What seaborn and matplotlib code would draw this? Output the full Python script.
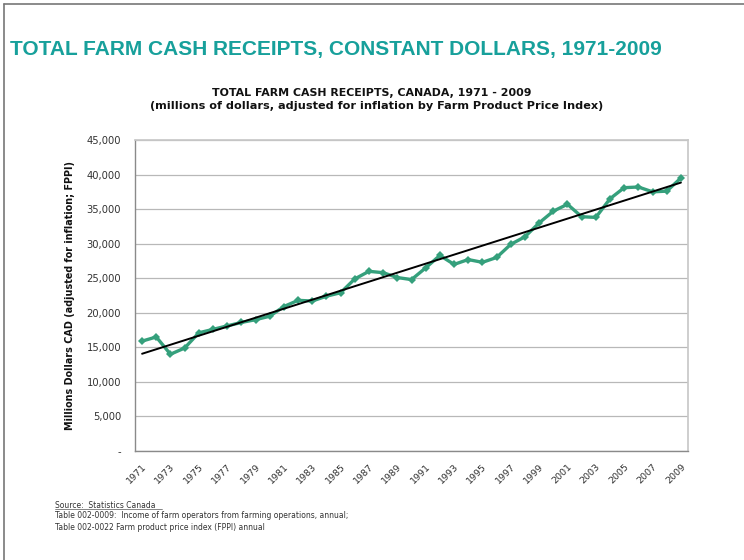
import numpy as np
import pandas as pd
import seaborn as sns
import matplotlib.pyplot as plt
from matplotlib.lines import Line2D
from matplotlib.ticker import FixedLocator, FuncFormatter

# Farm cash receipts, constant dollars (millions CAD)
years = list(range(1971, 2010))
receipts = [15900, 16500, 14000, 14900, 17100, 17600, 18100, 18600, 19000, 19500,
            20900, 21800, 21700, 22400, 22900, 24900, 26000, 25800, 25100, 24800,
            26500, 28300, 27000, 27700, 27300, 28000, 29900, 31000, 33000, 34700,
            35700, 33900, 33800, 36500, 38100, 38200, 37500, 37600, 39500]
ytick_vals = list(range(0, 45001, 5000))
label_years = list(range(1971, 2010, 2))

df = pd.DataFrame({"year": years, "receipts": receipts})

sns.set_theme(style="white")
plt.rcParams['font.family'] = ['DejaVu Sans']

fig = plt.figure(figsize=(7.44, 5.6), dpi=100)
ax = fig.add_axes([135/744, 109/560, 553/744, 311/560])

line_color = "#35a07c"
sns.lineplot(data=df, x="year", y="receipts", ax=ax, color=line_color, lw=2.4,
             marker="D", markersize=4, markeredgewidth=0)
sns.regplot(data=df, x="year", y="receipts", ax=ax, scatter=False, ci=None,
            truncate=True, line_kws={"color": "black", "lw": 1.4})

ax.set_xlim(1970.5, 2009.5)
ax.set_ylim(0, 45000)
ax.set_xlabel("")
ax.set_ylabel("Millions Dollars CAD (adjusted for inflation; FPPI)",
              fontsize=6.9, fontweight="bold", labelpad=8, color="#111111")

ax.yaxis.set_major_locator(FixedLocator(ytick_vals))
ax.yaxis.set_major_formatter(FuncFormatter(lambda v, p: "-" if v == 0 else f"{int(v):,}"))
ax.yaxis.grid(True, color="#b8b8b8", lw=0.9)
ax.set_axisbelow(True)

ax.set_xticks(label_years)
ax.set_xticklabels([str(y) for y in label_years], rotation=45, ha="right",
                   rotation_mode="anchor", fontsize=6.8, color="#333333")
ax.xaxis.set_minor_locator(FixedLocator(np.arange(1970.5, 2010, 1)))
ax.tick_params(axis="x", which="major", length=0, pad=8)
ax.tick_params(axis="x", which="minor", length=4, color="#888888", width=0.8, direction="out")
ax.tick_params(axis="y", which="major", length=4, color="#888888", width=0.8,
               direction="out", labelsize=7.2, labelcolor="#333333", pad=6)

for side in ["left", "bottom"]:
    ax.spines[side].set_color("#8a8a8a")
    ax.spines[side].set_linewidth(1.0)
ax.spines["right"].set_color("#c8c8c8")
ax.spines["top"].set_color("#c8c8c8")

fig.text(10/744, 1 - 50/560, "TOTAL FARM CASH RECEIPTS, CONSTANT DOLLARS, 1971-2009",
         fontsize=15.0, fontweight="bold", color="#17a09b", family="Liberation Sans",
         va="center", ha="left")
fig.text(372/744, 1 - 93/560, "TOTAL FARM CASH RECEIPTS, CANADA, 1971 - 2009",
         fontsize=7.9, fontweight="bold", ha="center", va="center", color="#111111")
fig.text(377/744, 1 - 106/560,
         "(millions of dollars, adjusted for inflation by Farm Product Price Index)",
         fontsize=8.1, fontweight="bold", ha="center", va="center", color="#111111")

src_kw = dict(fontsize=5.5, color="#333333", ha="left", va="center")
fig.text(55/744, 1 - 505/560, "Source:  Statistics Canada", **src_kw)
fig.add_artist(Line2D([55/744, 162/744], [1 - 509/560, 1 - 509/560], color="#555555", lw=0.5))
fig.text(55/744, 1 - 516/560,
         "Table 002-0009:  Income of farm operators from farming operations, annual;", **src_kw)
fig.text(55/744, 1 - 527/560, "Table 002-0022 Farm product price index (FPPI) annual", **src_kw)

# page frame on the left and top
fig.add_artist(Line2D([4/744, 4/744], [0, 1 - 4/560], color="#777777", lw=1.2))
fig.add_artist(Line2D([4/744, 1], [1 - 4/560, 1 - 4/560], color="#777777", lw=1.2))

fig.savefig("out.png", dpi=100)
